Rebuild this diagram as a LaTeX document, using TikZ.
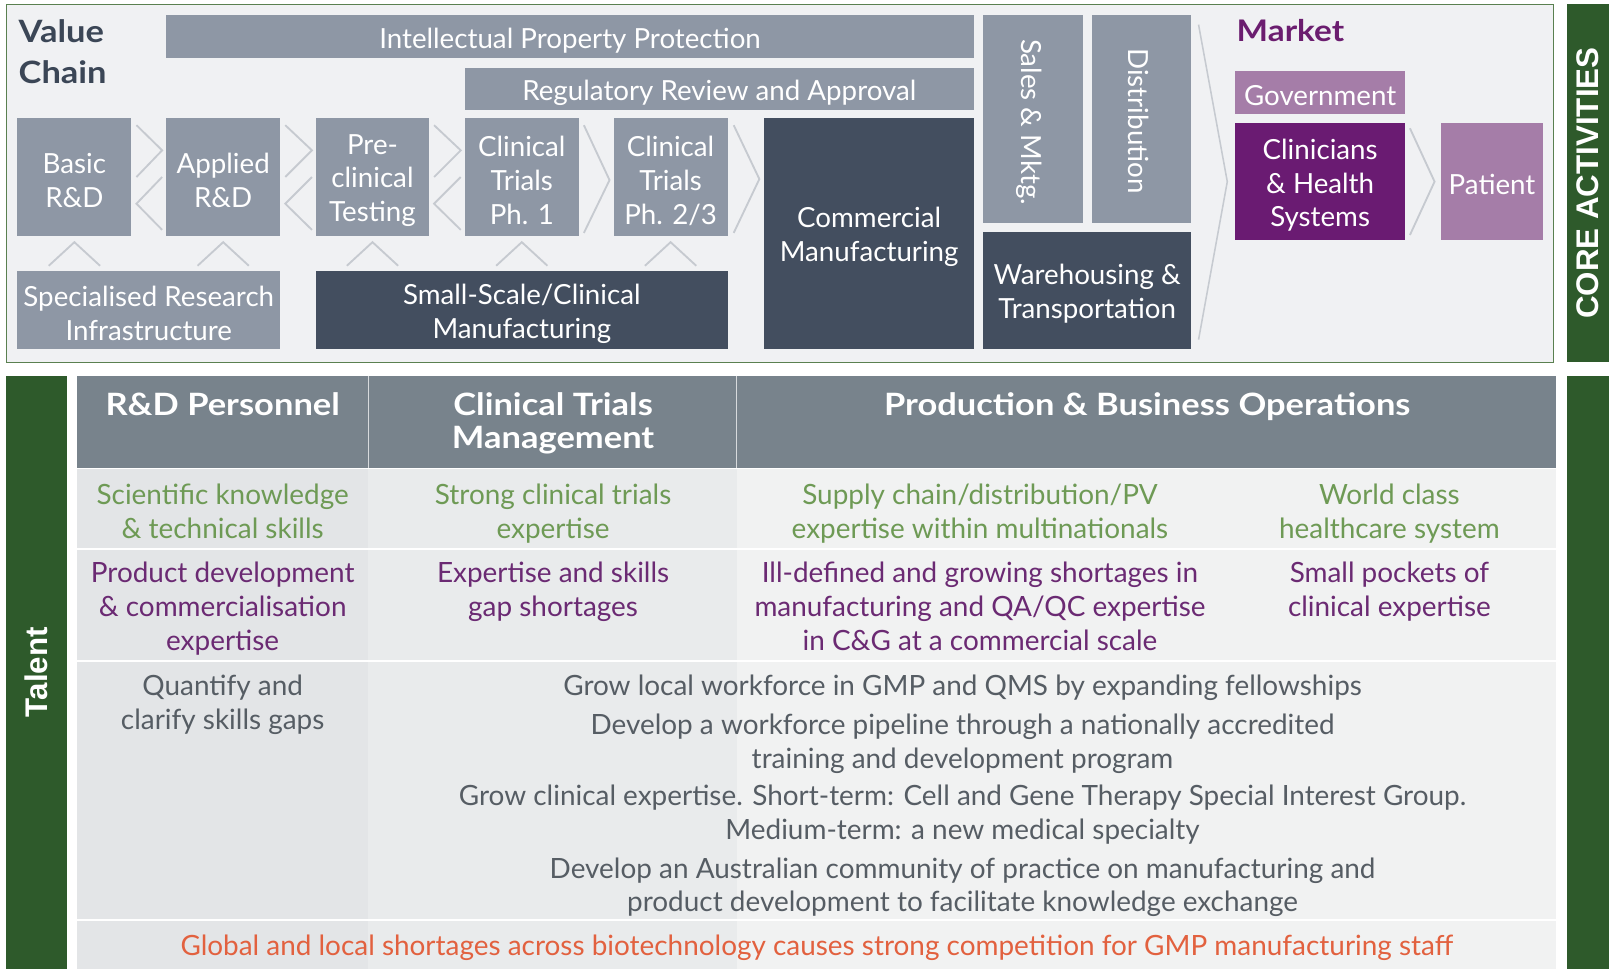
\documentclass[tikz,border=0pt]{standalone}
\usepackage{fontspec}
\setmainfont{Lato}
\newfontfamily\wlato{Lato}[FakeStretch=1.12]
\newfontfamily\sidefont{Liberation Sans}
\usetikzlibrary{calc}
\definecolor{bggray}{HTML}{F0F1F3}
\definecolor{framegreen}{HTML}{5A8050}
\definecolor{midbox}{HTML}{8E97A5}
\definecolor{darkbox}{HTML}{434E5F}
\definecolor{chev}{HTML}{C6CAD0}
\definecolor{vctext}{HTML}{3B4656}
\definecolor{mktpurple}{HTML}{6B1D6F}
\definecolor{lightpurple}{HTML}{A57DA8}
\definecolor{darkpurple}{HTML}{6A1B72}
\definecolor{sidegreen}{HTML}{2E5A2B}
\definecolor{headgray}{HTML}{78838C}
\definecolor{colA}{HTML}{E3E5E7}
\definecolor{colB}{HTML}{E9EBEC}
\definecolor{colC}{HTML}{F1F2F2}
\definecolor{txtgreen}{HTML}{6E9A55}
\definecolor{txtpurple}{HTML}{6B2A73}
\definecolor{txtgray}{HTML}{565D64}
\definecolor{txtorange}{HTML}{E2613F}
\begin{document}
\begin{tikzpicture}[x=1pt,y=-1pt,
  vbox/.style={inner sep=0pt, outer sep=0pt},
  midb/.style={vbox, fill=midbox},
  darkb/.style={vbox, fill=darkbox},
  lpb/.style={vbox, fill=lightpurple},
  dpb/.style={vbox, fill=darkpurple},
  lbl/.style={inner sep=0pt, align=center, text=white, font=\fontsize{27}{33}\selectfont},
  rlbl/.style={lbl, rotate=-90},
  chevline/.style={draw=chev, line width=1.8pt, line join=miter},
  sidebar/.style={fill=sidegreen, inner sep=0pt, outer sep=0pt},
  sidelabel/.style={text=white, font=\sidefont\bfseries\fontsize{30.5}{30}\selectfont, rotate=90, inner sep=0pt},
  headtxt/.style={text=white, align=center, font=\wlato\fontsize{30}{33}\bfseries\selectfont, inner sep=0pt, anchor=north},
  celltxt/.style={align=center, font=\fontsize{27.2}{33}\selectfont, inner sep=0pt},
  sepline/.style={draw=white, line width=2pt}
]
\useasboundingbox (0,0) rectangle (1568,944);
\fill[white] (0,0) rectangle (1568,944);

% ---------- top: value chain ----------
\node[draw=framegreen, fill=bggray, line width=1pt, inner sep=0pt, outer sep=0pt,
  minimum width=1508pt, minimum height=349pt] (frame) at (760,178.5) {};
\node[sidebar, minimum width=41pt, minimum height=349pt] (corebar) at (1547.5,178.5) {};
\node[sidelabel] (corelbl) at (corebar.center) {CORE ACTIVITIES};

\node[anchor=north west, align=left, text=vctext, inner sep=0pt,
  font=\wlato\fontsize{30}{40}\bfseries\selectfont] (vc) at (18,19) {Value\\Chain};

\node[midb, minimum width=787pt, minimum height=42pt] (ipp) at (555.5,36) {};
\node[midb, minimum width=496pt, minimum height=41pt] (rra) at (701,86.5) {};
\node[midb, minimum width=111pt, minimum height=115pt] (basic) at (72.5,172.5) {};
\node[midb, minimum width=111pt, minimum height=115pt] (applied) at (217.5,172.5) {};
\node[midb, minimum width=110pt, minimum height=115pt] (precl) at (363,172.5) {};
\node[midb, minimum width=111pt, minimum height=115pt] (ph1) at (508.5,172.5) {};
\node[midb, minimum width=111pt, minimum height=115pt] (ph23) at (653.5,172.5) {};
\node[darkb, minimum width=204pt, minimum height=225pt] (cm) at (847,227.5) {};
\node[midb, minimum width=97pt, minimum height=202pt] (sales) at (1006.5,116) {};
\node[midb, minimum width=97pt, minimum height=202pt] (dist) at (1112.5,116) {};
\node[darkb, minimum width=203pt, minimum height=114pt] (wt) at (1059.5,283) {};
\node[midb, minimum width=256pt, minimum height=76pt] (sri) at (145,302) {};
\node[darkb, minimum width=401pt, minimum height=76pt] (ssm) at (508.5,302) {};
\node[lpb, minimum width=165pt, minimum height=42pt] (gov) at (1286.5,90) {};
\node[dpb, minimum width=165pt, minimum height=114pt] (clin) at (1286.5,177) {};
\node[lpb, minimum width=100pt, minimum height=114pt] (pat) at (1454,177) {};

\node[lbl] (ippt) at ($(ipp.center)+(0,3.5)$) {Intellectual Property Protection};
\node[lbl] (rrat) at ($(rra.center)+(0,3.5)$) {Regulatory Review and Approval};
\node[lbl] (basict) at ($(basic.center)+(0,3.5)$) {Basic\\R\&D};
\node[lbl] (appliedt) at ($(applied.center)+(0,3.5)$) {Applied\\R\&D};
\node[lbl] (preclt) at ($(precl.center)+(0,3.5)$) {Pre-\\clinical\\Testing};
\node[lbl] (ph1t) at ($(ph1.center)+(0,3.5)$) {Clinical\\Trials\\Ph. 1};
\node[lbl] (ph23t) at ($(ph23.center)+(0,3.5)$) {Clinical\\Trials\\Ph. 2/3};
\node[lbl] (cmt) at ($(cm.center)+(0,3.5)$) {Commercial\\Manufacturing};
\node[rlbl] (salest) at ($(sales.center)+(-4,3)$) {Sales \& Mktg.};
\node[rlbl] (distt) at ($(dist.center)+(-3,2)$) {Distribution};
\node[lbl] (wtt) at ($(wt.center)+(0,3.5)$) {Warehousing \&\\Transportation};
\node[lbl] (srit) at ($(sri.center)+(0,3.5)$) {Specialised Research\\Infrastructure};
\node[lbl] (ssmt) at ($(ssm.center)+(0,3.5)$) {Small-Scale/Clinical\\Manufacturing};

\node[anchor=north west, text=mktpurple, inner sep=0pt,
  font=\wlato\fontsize{29}{36}\bfseries\selectfont] (mkt) at (1205,19) {Market};
\node[lbl] (govt) at ($(gov.center)+(0,3)$) {Government};
\node[lbl] (clint) at ($(clin.center)+(0,3.5)$) {Clinicians\\\& Health\\Systems};
\node[lbl] (patt) at ($(pat.center)+(0,2.5)$) {Patient};

% chevrons: double (forward + backward)
\foreach \a/\b in {basic/applied, applied/precl, precl/ph1}{
  \draw[chevline] ($(\a.north east)+(5,7)$) -- ($(\b.west)+(-4,-26)$) -- ($(\a.east)+(5,0)$);
  \draw[chevline] ($(\b.west)+(-4,0)$) -- ($(\a.east)+(5,26)$) -- ($(\b.south west)+(-4,-6)$);
}
% single forward chevrons
\draw[chevline] ($(ph1.north east)+(5,7)$) -- ($(ph23.west)+(-4,3)$) -- ($(ph1.south east)+(5,-3)$);
\draw[chevline] ($(ph23.north east)+(6,7)$) -- ($(cm.west)+(-5,-53)$) -- ($(ph23.south east)+(6,-3)$);
\draw[chevline] ($(clin.north east)+(5,5)$) -- ($(pat.west)+(-6,0)$) -- ($(clin.south east)+(5,-5)$);
% big chevron into market
\coordinate (mktapex) at ($(clin.west)+(-8,0)$);
\draw[draw=chev, line width=1.5pt] ($(dist.north east)+(7,9)$) -- (mktapex) -- ($(wt.south east)+(7,-9)$);

% carets
\foreach \b in {basic, applied, precl, ph1, ph23}{
  \draw[chevline] ($(\b.south)+(-25,29)$) -- ($(\b.south)+(0,6)$) -- ($(\b.south)+(25,29)$);
}

% ---------- bottom: talent ----------
\node[sidebar, minimum width=59pt, minimum height=578pt] (talbar) at (35.5,655) {};
\node[sidelabel] (tallbl) at (talbar.center) {Talent};
\node[sidebar, minimum width=41pt, minimum height=578pt] (rbar) at (1547.5,655) {};

% column backgrounds
\fill[colA] (75,457) rectangle (359,944);
\fill[colB] (359,457) rectangle (718,944);
\fill[colC] (718,457) rectangle (1516,944);
% header
\node[fill=headgray, inner sep=0pt, outer sep=0pt, minimum width=1441pt, minimum height=90pt] (head) at (795.5,411) {};
\draw[draw=white!70!headgray, line width=1.2pt] (359,366) -- (359,456);
\draw[draw=white!70!headgray, line width=1.2pt] (718,366) -- (718,456);
% row separators
\draw[sepline] (75,535) -- (1516,535);
\draw[sepline] (75,644) -- (1516,644);
\draw[sepline] (75,897) -- (1516,897);

\node[headtxt] (h1) at (217,382) {R\&D Personnel};
\node[headtxt] (h2) at (539,382) {Clinical Trials\\Management};
\node[headtxt] (h3) at (1118,382) {Production \& Business Operations};

% row 1 (strengths)
\node[celltxt, text=txtgreen, anchor=north] (r1a) at (217,471.5) {Scientific knowledge\\\& technical skills};
\node[celltxt, text=txtgreen, anchor=north] (r1b) at (539,471.5) {Strong clinical trials\\expertise};
\node[celltxt, text=txtgreen, anchor=north] (r1c) at (955,471.5) {Supply chain/distribution/PV\\expertise within multinationals};
\node[celltxt, text=txtgreen, anchor=north] (r1d) at (1354,471.5) {World class\\healthcare system};

% row 2 (gaps)
\node[celltxt, text=txtpurple, anchor=north] (r2a) at (217,547.5) {Product development\\\& commercialisation\\expertise};
\node[celltxt, text=txtpurple, anchor=north] (r2b) at (539,547.5) {Expertise and skills\\gap shortages};
\node[celltxt, text=txtpurple, anchor=north] (r2c) at (955,547.5) {Ill-defined and growing shortages in\\manufacturing and QA/QC expertise\\in C\&G at a commercial scale};
\node[celltxt, text=txtpurple, anchor=north] (r2d) at (1354,547.5) {Small pockets of\\clinical expertise};

% row 3 (actions)
\node[celltxt, text=txtgray, anchor=north] (r3a) at (217,657.5) {Quantify and\\clarify skills gaps};
\node[celltxt, text=txtgray, anchor=north] (r3b) at (938,657.5) {Grow local workforce in GMP and QMS by expanding fellowships};
\node[celltxt, text=txtgray, anchor=north] (r3c) at (938,695.5) {Develop a workforce pipeline through a nationally accredited\\training and development program};
\node[celltxt, text=txtgray, anchor=north] (r3d) at (938,764.5) {Grow clinical expertise. Short-term: Cell and Gene Therapy Special Interest Group.\\Medium-term: a new medical specialty};
\node[celltxt, text=txtgray, anchor=north] (r3e) at (938,835.5) {Develop an Australian community of practice on manufacturing and\\product development to facilitate knowledge exchange};

% row 4
\node[celltxt, text=txtorange] (r4) at (796,924) {Global and local shortages across biotechnology causes strong competition for GMP manufacturing staff};
\end{tikzpicture}
\end{document}
